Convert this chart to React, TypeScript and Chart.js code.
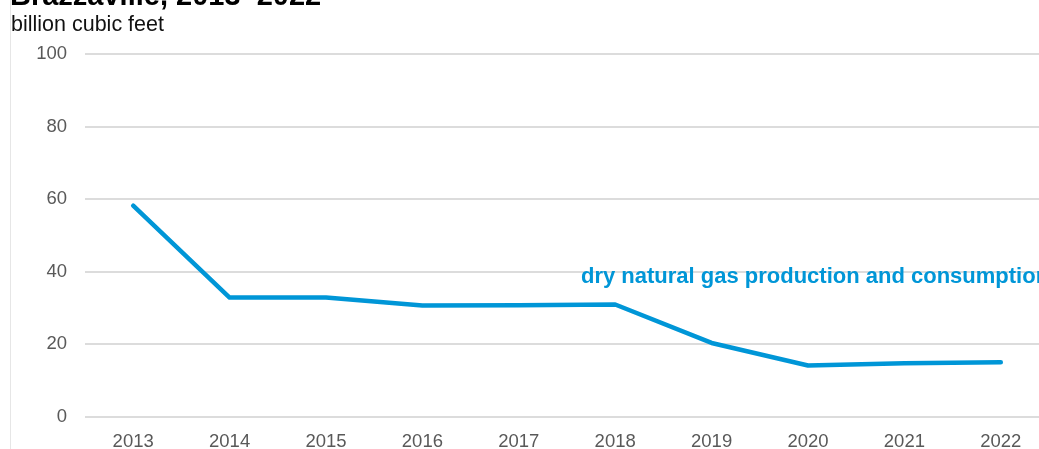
import React, { useEffect, useRef } from "react";
import { Chart, registerables } from "chart.js";

Chart.register(...registerables);

const years = ["2013", "2014", "2015", "2016", "2017", "2018", "2019", "2020", "2021", "2022"];
const gasValues = [58.2, 32.9, 32.9, 30.7, 30.8, 31.0, 20.4, 14.2, 14.8, 15.1];
const yTicks = [0, 20, 40, 60, 80, 100];
const titleText = "Brazzaville, 2013\u20132022";
const unitText = "billion cubic feet";
const seriesLabel = "dry natural gas production and consumption";
const labelAnchor = { index: 4.645, value: 36.9 };

const BLUE = "#0096d7";
const FONT = "'Liberation Sans', Arial, sans-serif";

const overlayPlugin = {
  id: "overlay",
  afterDraw(chart: any) {
    const ctx = chart.ctx;
    const xs = chart.scales.x;
    const ys = chart.scales.y;
    ctx.save();
    // left faint border
    ctx.strokeStyle = "#e6e6e6";
    ctx.lineWidth = 1;
    ctx.beginPath();
    ctx.moveTo(10.5, 0);
    ctx.lineTo(10.5, chart.height);
    ctx.stroke();
    // title (clipped at the top)
    ctx.fillStyle = "#000000";
    ctx.textAlign = "left";
    ctx.textBaseline = "alphabetic";
    ctx.font = `bold 29px ${FONT}`;
    ctx.fillText(titleText, 10, 5);
    ctx.font = `21.5px ${FONT}`;
    ctx.fillStyle = "#111111";
    ctx.fillText(unitText, 11, 31);
    // series label
    const lx = xs.getPixelForValue(labelAnchor.index);
    const ly = ys.getPixelForValue(labelAnchor.value);
    ctx.font = `bold 22px ${FONT}`;
    ctx.fillStyle = BLUE;
    ctx.fillText(seriesLabel, lx, ly);
    ctx.restore();
  },
};

export default function App() {
  const ref = useRef<HTMLCanvasElement>(null);
  useEffect(() => {
    if (!ref.current) return;
    const chart = new Chart(ref.current, {
      type: "line",
      data: {
        labels: years,
        datasets: [
          {
            label: seriesLabel,
            data: gasValues,
            borderColor: BLUE,
            backgroundColor: BLUE,
            borderWidth: 4.5,
            pointRadius: 0,
            tension: 0,
            borderCapStyle: "round",
            borderJoinStyle: "round",
          },
        ],
      },
      options: {
        animation: false,
        responsive: false,
        devicePixelRatio: 1,
        layout: { padding: { top: 54, left: 0, right: 0, bottom: 0 } },
        plugins: {
          legend: { display: false },
          tooltip: { enabled: false },
          title: { display: false },
        },
        scales: {
          x: {
            offset: true,
            grid: { display: false, drawTicks: false },
            border: { display: false },
            ticks: {
              padding: 14,
              color: "#595959",
              font: { family: FONT, size: 18.5 },
              maxRotation: 0,
              autoSkip: false,
            },
            afterFit: (s: any) => {
              s.height = 32;
            },
          },
          y: {
            min: 0,
            max: 100,
            afterBuildTicks: (s: any) => {
              s.ticks = yTicks.map((v) => ({ value: v }));
            },
            grid: { color: "#dcdcdc", lineWidth: 2, drawTicks: false },
            border: { display: false },
            ticks: {
              padding: 18,
              color: "#595959",
              font: { family: FONT, size: 18.5 },
            },
            afterFit: (s: any) => {
              s.width = 85;
            },
          },
        },
      },
      plugins: [overlayPlugin],
    });
    return () => chart.destroy();
  }, []);
  return (
    <div style={{ position: "absolute", left: 0, top: 0, width: 1039, height: 449, overflow: "hidden", background: "#fff" }}>
      <canvas ref={ref} width={1049} height={449} style={{ display: "block" }} />
    </div>
  );
}
